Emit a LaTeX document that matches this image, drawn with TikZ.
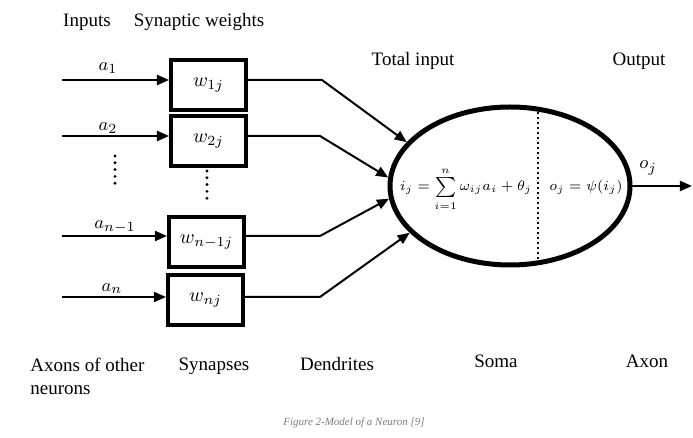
\documentclass[tikz,border=0pt]{standalone}
\usepackage{fontspec}
\setmainfont{Liberation Serif}
\usetikzlibrary{arrows.meta,shapes.geometric}
\definecolor{capgray}{RGB}{120,122,140}
\tikzset{
  wbox/.style={draw, line width=2pt, minimum width=37.5pt, minimum height=25pt, inner sep=0pt},
  wire/.style={line width=1pt},
  arr/.style={wire, -{Triangle[length=6pt,width=5pt]}},
  lbl/.style={font=\fontsize{9.5}{11.5}\selectfont, inner sep=0pt},
  txt/.style={lbl, anchor=base},
  eqn/.style={font=\fontsize{7.5}{9}\selectfont, inner sep=0pt, anchor=base},
  vdots/.style={line width=1.6pt, line cap=round, dash pattern=on 0pt off 3.4pt},
}

\begin{document}
\begin{tikzpicture}[x=0.5pt, y=-0.5pt]
    \useasboundingbox (0,0) rectangle (693,438);

    % Headings
    \node[txt] (hin) at (87,27) {Inputs};
    \node[txt] (hsyn) at (199,27) {Synaptic weights};
    \node[txt] (htot) at (413,66) {Total input};
    \node[txt] (hout) at (639,66) {Output};

    % Synaptic weights
    \node[wbox] (w1) at (208.5,85) {$w_{1j}$};
    \node[wbox] (w2) at (208.5,141) {$w_{2j}$};
    \node[wbox] (w3) at (206.5,242.5) {$w_{n-1j}$};
    \node[wbox] (w4) at (205.5,300.5) {$w_{nj}$};

    % Soma
    \node[draw, ellipse, line width=2.5pt, minimum width=120pt, minimum height=79pt, inner sep=0pt] (soma) at (510,186) {};
    \draw[dash pattern=on 1.2pt off 1.3pt, line width=1.2pt] (538,107) -- (538,264);
    \node[eqn] (sum) at (466,191) {$i_j = \sum\limits_{i=1}^{n} \omega_{ij} a_i + \theta_j$};
    \node[eqn] (act) at (586,191) {$o_j = \psi(i_j)$};

    % Inputs
    \coordinate (in1) at (62,80);
    \coordinate (in2) at (62,136);
    \coordinate (in3) at (62,236);
    \coordinate (in4) at (62,297);
    \draw[arr] (in1) -- (in1 -| w1.west);
    \draw[arr] (in2) -- (in2 -| w2.west);
    \draw[arr] (in3) -- (in3 -| w3.west);
    \draw[arr] (in4) -- (in4 -| w4.west);
    \node[lbl] (a1) at (108,68) {$a_1$};
    \node[lbl] (a2) at (108,128) {$a_2$};
    \node[lbl] (a3) at (115,227) {$a_{n-1}$};
    \node[lbl] (a4) at (112,289) {$a_n$};
    \draw[vdots] (115,156) -- (115,184);
    \draw[vdots] (207,171) -- (207,200);

    % Dendrites
    \coordinate (b1) at (322,80);
    \coordinate (b2) at (320,136);
    \coordinate (b3) at (320,236);
    \coordinate (b4) at (320,297);
    \draw[arr] (w1.east |- b1) -- (b1) -- (soma.157);
    \draw[arr] (w2.east |- b2) -- (b2) -- (soma.176);
    \draw[arr] (w3.east |- b3) -- (b3) -- (soma.186);
    \draw[arr] (w4.east |- b4) -- (b4) -- (soma.205);

    % Axon
    \coordinate (out) at (692,186);
    \draw[arr] (soma.east) -- (out);
    \node[lbl] (oj) at (648,168) {$o_j$};

    % Bottom row
    \node[lbl, anchor=north west, align=left] (baxo) at (30,358) {Axons of other\\neurons};
    \node[txt] (bsyn) at (214,371) {Synapses};
    \node[txt] (bden) at (337,371) {Dendrites};
    \node[txt] (bsom) at (496,368) {Soma};
    \node[txt] (bax) at (647,368) {Axon};

    \node[font=\fontsize{5.5}{6}\selectfont\itshape, text=capgray, inner sep=0pt] (cap) at (354,423) {Figure 2-Model of a Neuron [9]};
\end{tikzpicture}
\end{document}
